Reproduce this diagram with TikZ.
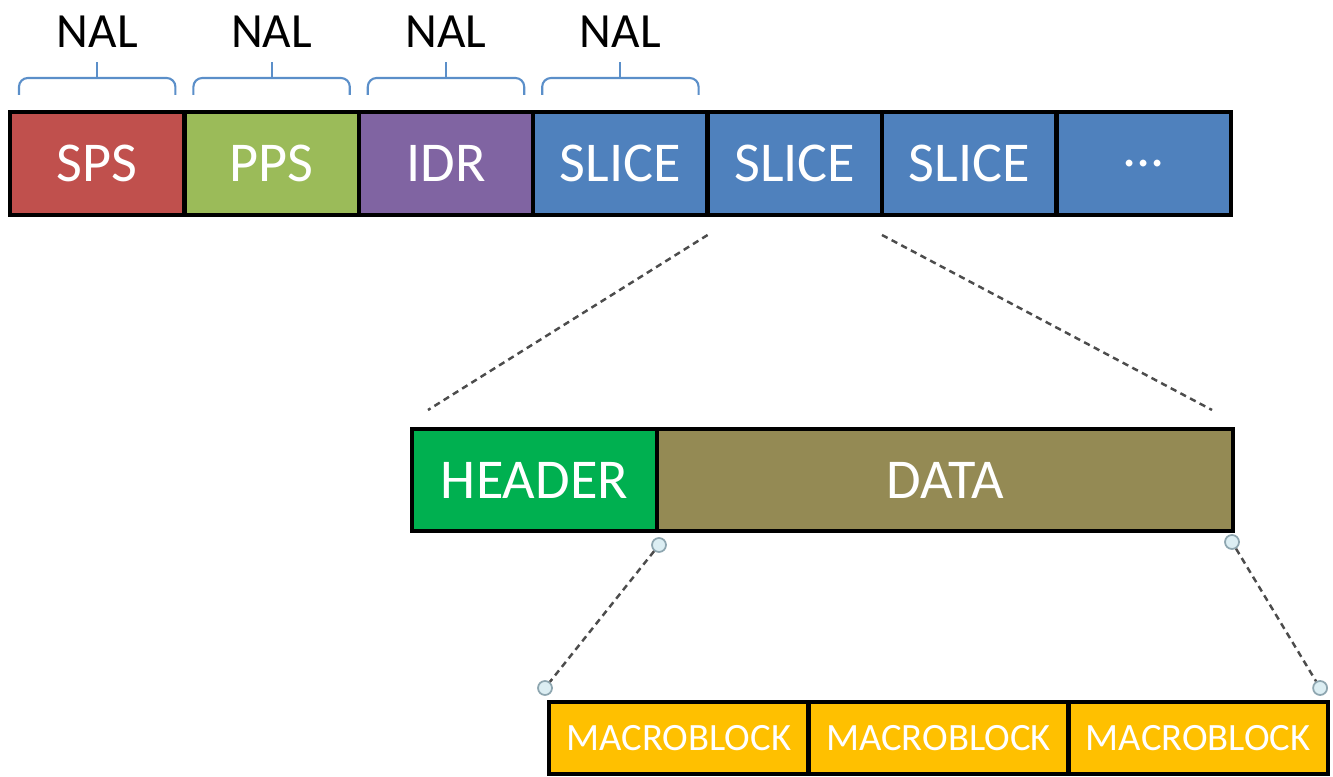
\documentclass[tikz,border=0pt]{standalone}
\usepackage{fontspec}
\setmainfont{Carlito}
\usetikzlibrary{positioning,calc}

\definecolor{spsred}{HTML}{C0504D}
\definecolor{ppsgreen}{HTML}{9BBB59}
\definecolor{idrpurple}{HTML}{8064A2}
\definecolor{sliceblue}{HTML}{4F81BD}
\definecolor{headergreen}{HTML}{00B050}
\definecolor{dataolive}{HTML}{948A54}
\definecolor{mbyellow}{HTML}{FFC000}
\definecolor{braceblue}{HTML}{5B8FC9}
\definecolor{handlefill}{HTML}{DCEEF3}
\definecolor{handleedge}{HTML}{8EA6B0}

\tikzset{
  unit/.style={draw, line width=1.3pt, outer sep=0pt, inner sep=0pt,
    minimum width=1.744cm, minimum height=1.03cm, text=white,
    font=\fontsize{16}{18}\selectfont},
  part/.style={unit, minimum height=1.02cm},
  mblock/.style={unit, minimum width=2.597cm, minimum height=0.72cm,
    font=\fontsize{11}{13}\selectfont},
  nalbrace/.style={draw=braceblue, line width=0.6pt, rounded corners=2.5pt},
  zoomline/.style={draw=black!70, line width=0.7pt, dash pattern=on 1.8pt off 1.3pt},
  handle/.style={circle, draw=handleedge, fill=handlefill, line width=0.5pt,
    minimum size=0.14cm, inner sep=0pt}
}

\begin{document}
\begin{tikzpicture}
  \useasboundingbox (0,0) rectangle (13.33,-7.77);

  % NAL stream
  \node[unit, fill=spsred, anchor=west] (sps) at (0.10,-1.635) {SPS};
  \node[unit, fill=ppsgreen, right=0pt of sps] (pps) {PPS};
  \node[unit, fill=idrpurple, right=0pt of pps] (idr) {IDR};
  \node[unit, fill=sliceblue, right=0pt of idr] (slice1) {SLICE};
  \node[unit, fill=sliceblue, right=0pt of slice1] (slice2) {SLICE};
  \node[unit, fill=sliceblue, right=0pt of slice2] (slice3) {SLICE};
  \node[unit, fill=sliceblue, right=0pt of slice3] (more) {...};

  \foreach \n in {sps,pps,idr,slice1} {
    \coordinate (bl-\n) at ($(\n.north west)+(0.09,0.17)$);
    \coordinate (br-\n) at ($(\n.north east)+(-0.09,0.17)$);
    \coordinate (bm-\n) at ($(\n.north)+(0,0.34)$);
    \draw[nalbrace] (bl-\n) |- (bm-\n) -| (br-\n);
    \draw[nalbrace] (bm-\n) -- ++(0,0.16);
    \node (nal-\n) at ($(\n.north)+(0,0.8)$) {\fontsize{14}{16}\selectfont NAL};
  }

  % slice
  \node[part, fill=headergreen, minimum width=2.45cm, anchor=west] (header) at (4.12,-4.80) {HEADER};
  \node[part, fill=dataolive, minimum width=5.76cm, right=0pt of header] (data) {DATA};

  \coordinate (z1) at ($(slice2.south west)+(0,-0.2)$);
  \coordinate (z2) at ($(header.north west)+(0.16,0.19)$);
  \coordinate (z3) at ($(slice2.south east)+(0,-0.2)$);
  \coordinate (z4) at ($(data.north east)+(-0.21,0.19)$);
  \draw[zoomline] (z1) -- (z2);
  \draw[zoomline] (z3) -- (z4);

  % macroblocks
  \node[mblock, fill=mbyellow, anchor=west] (mb1) at (5.49,-7.38) {MACROBLOCK};
  \node[mblock, fill=mbyellow, right=0pt of mb1] (mb2) {MACROBLOCK};
  \node[mblock, fill=mbyellow, right=0pt of mb2] (mb3) {MACROBLOCK};

  \node[handle] (h1) at ($(data.south west)+(0.02,-0.14)$) {};
  \node[handle] (h2) at ($(data.south east)+(-0.01,-0.11)$) {};
  \node[handle] (h3) at ($(mb1.north west)+(-0.04,0.14)$) {};
  \node[handle] (h4) at ($(mb3.north east)+(-0.08,0.14)$) {};
  \draw[zoomline] (h1) -- (h3);
  \draw[zoomline] (h2) -- (h4);
\end{tikzpicture}
\end{document}
